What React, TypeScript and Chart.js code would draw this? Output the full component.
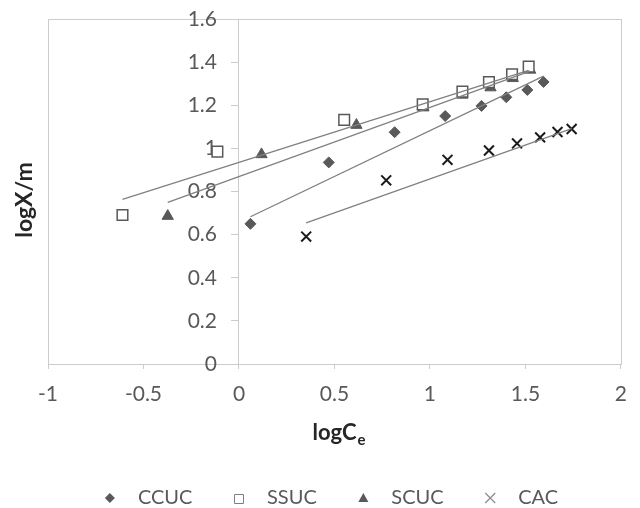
import React, { useEffect, useRef } from "react";
import { Chart, registerables } from "chart.js";

Chart.register(...registerables);

// ---- data ----
const seriesNames = ["CCUC", "SSUC", "SCUC", "CAC"];

const ccucX = [0.06, 0.47, 0.815, 1.08, 1.27, 1.4, 1.51, 1.595];
const ccucY = [0.65, 0.935, 1.075, 1.15, 1.197, 1.237, 1.271, 1.308];

const ssucX = [-0.61, -0.113, 0.551, 0.962, 1.17, 1.309, 1.43, 1.517];
const ssucY = [0.691, 0.985, 1.132, 1.204, 1.263, 1.307, 1.344, 1.379];

const scucX = [-0.373, 0.118, 0.615, 0.966, 1.17, 1.317, 1.434, 1.525];
const scucY = [0.686, 0.972, 1.108, 1.189, 1.248, 1.282, 1.325, 1.364];

const cacX = [0.352, 0.771, 1.092, 1.309, 1.456, 1.577, 1.668, 1.742];
const cacY = [0.591, 0.852, 0.947, 0.99, 1.023, 1.051, 1.076, 1.09];

// trendline end points (x range of each series)
const ccucFitX = [0.06, 1.595];
const ccucFitY = [0.683, 1.335];
const ssucFitX = [-0.61, 1.517];
const ssucFitY = [0.764, 1.362];
const scucFitX = [-0.373, 1.525];
const scucFitY = [0.75, 1.358];
const cacFitX = [0.352, 1.742];
const cacFitY = [0.655, 1.092];

const xTickValues = [-1, -0.5, 0, 0.5, 1, 1.5, 2];
const yTickValues = [0, 0.2, 0.4, 0.6, 0.8, 1, 1.2, 1.4, 1.6];

const xTitle = "logC";
const xTitleSub = "e";
const yTitle = "logX/m";

const toPts = (xs: number[], ys: number[]) => xs.map((x, i) => ({ x, y: ys[i] }));

const DARK = "#595959";
const LINE = "#808080";
const FRAME = "#cccccc";
const FONT = "Lato";

const framePlugin = {
  id: "frame",
  beforeDraw(chart: any) {
    const { ctx, chartArea } = chart;
    ctx.save();
    ctx.strokeStyle = FRAME;
    ctx.lineWidth = 1;
    ctx.strokeRect(
      Math.round(chartArea.left) + 0.5,
      Math.round(chartArea.top) + 0.5,
      Math.round(chartArea.right - chartArea.left),
      Math.round(chartArea.bottom - chartArea.top)
    );
    ctx.restore();
  },
};

function drawMarker(ctx: CanvasRenderingContext2D, kind: string, x: number, y: number) {
  ctx.save();
  ctx.beginPath();
  if (kind === "diamond") {
    const r = 5;
    ctx.moveTo(x, y - r);
    ctx.lineTo(x + r, y);
    ctx.lineTo(x, y + r);
    ctx.lineTo(x - r, y);
    ctx.closePath();
    ctx.fillStyle = DARK;
    ctx.fill();
  } else if (kind === "square") {
    const s = 9;
    ctx.rect(Math.round(x - s / 2) + 0.5, Math.round(y - s / 2) + 0.5, s, s);
    ctx.fillStyle = "#fff";
    ctx.fill();
    ctx.strokeStyle = "#7f7f7f";
    ctx.lineWidth = 1;
    ctx.stroke();
  } else if (kind === "triangle") {
    const s = 10;
    ctx.moveTo(x, y - s * 0.5);
    ctx.lineTo(x + s / 2, y + s * 0.4);
    ctx.lineTo(x - s / 2, y + s * 0.4);
    ctx.closePath();
    ctx.fillStyle = DARK;
    ctx.fill();
  } else {
    const h = 5;
    ctx.moveTo(x - h, y - h);
    ctx.lineTo(x + h, y + h);
    ctx.moveTo(x + h, y - h);
    ctx.lineTo(x - h, y + h);
    ctx.strokeStyle = "#8c8c8c";
    ctx.lineWidth = 1.2;
    ctx.stroke();
  }
  ctx.restore();
}

const titlesPlugin = {
  id: "titlesLegend",
  afterDraw(chart: any) {
    const { ctx } = chart;
    ctx.save();
    // y title
    ctx.fillStyle = "#262626";
    ctx.font = `bold 23px ${FONT}`;
    ctx.textAlign = "center";
    ctx.textBaseline = "middle";
    ctx.translate(25, 200);
    ctx.rotate(-Math.PI / 2);
    ctx.fillText(yTitle, 0, 0);
    ctx.restore();

    // x title with subscript
    ctx.save();
    ctx.fillStyle = "#262626";
    ctx.font = `bold 22px ${FONT}`;
    const w1 = ctx.measureText(xTitle).width;
    ctx.font = `bold 15px ${FONT}`;
    const w2 = ctx.measureText(xTitleSub).width;
    const start = 339 - (w1 + w2 + 1) / 2;
    ctx.textAlign = "left";
    ctx.textBaseline = "alphabetic";
    ctx.font = `bold 22px ${FONT}`;
    ctx.fillText(xTitle, start, 440);
    ctx.font = `bold 15px ${FONT}`;
    ctx.fillText(xTitleSub, start + w1 + 1, 445);
    ctx.restore();

    // legend
    ctx.save();
    ctx.font = `20px ${FONT}`;
    ctx.fillStyle = DARK;
    ctx.textAlign = "left";
    ctx.textBaseline = "middle";
    const kinds = ["diamond", "square", "triangle", "cross"];
    const gapText = 28;
    const gapItem = 46.6;
    const widths = seriesNames.map((n) => ctx.measureText(n).width);
    const total = gapText * 4 + widths.reduce((a, b) => a + b, 0) + gapItem * 3;
    let x = 334 - total / 2;
    const ly = 498;
    seriesNames.forEach((n, i) => {
      drawMarker(ctx, kinds[i], x, ly);
      ctx.fillStyle = DARK;
      ctx.fillText(n, x + gapText, ly);
      x += gapText + widths[i] + gapItem;
    });
    ctx.restore();
  },
};

export default function App() {
  const ref = useRef<HTMLCanvasElement | null>(null);

  useEffect(() => {
    if (!ref.current) return;
    const lineDs = (xs: number[], ys: number[]) => ({
      data: toPts(xs, ys),
      showLine: true,
      pointRadius: 0,
      pointHoverRadius: 0,
      borderColor: LINE,
      borderWidth: 1.3,
      fill: false,
      order: 0,
    });
    const yTickLabelFont = { family: FONT, size: 21 };
    const chart = new Chart(ref.current, {
      type: "scatter",
      data: {
        datasets: [
          lineDs(ccucFitX, ccucFitY),
          lineDs(ssucFitX, ssucFitY),
          lineDs(scucFitX, scucFitY),
          lineDs(cacFitX, cacFitY),
          {
            label: seriesNames[0],
            data: toPts(ccucX, ccucY),
            pointStyle: "rectRot",
            pointRadius: 5.5,
            backgroundColor: DARK,
            borderColor: DARK,
            borderWidth: 1,
            order: 1,
          },
          {
            label: seriesNames[1],
            data: toPts(ssucX, ssucY),
            pointStyle: "rect",
            pointRadius: 7.5,
            backgroundColor: "#ffffff",
            borderColor: DARK,
            borderWidth: 1.5,
            order: 1,
          },
          {
            label: seriesNames[2],
            data: toPts(scucX, scucY),
            pointStyle: "triangle",
            pointRadius: 6.5,
            backgroundColor: DARK,
            borderColor: DARK,
            borderWidth: 1,
            order: 1,
          },
          {
            label: seriesNames[3],
            data: toPts(cacX, cacY),
            pointStyle: "crossRot",
            pointRadius: 7,
            backgroundColor: "#1a1a1a",
            borderColor: "#1a1a1a",
            borderWidth: 2,
            order: 1,
          },
        ] as any,
      },
      options: {
        animation: false,
        responsive: false,
        devicePixelRatio: 1,
        layout: { padding: { left: 48, right: 11, top: 19, bottom: 0 } },
        plugins: {
          legend: { display: false },
          tooltip: { enabled: false },
          title: { display: false },
        },
        scales: {
          x: {
            type: "linear",
            position: "bottom",
            min: -1,
            max: 2,
            afterFit: (s: any) => {
              s.height = 144;
            },
            afterBuildTicks: (s: any) => {
              s.ticks = xTickValues.map((v) => ({ value: v }));
            },
            ticks: {
              color: DARK,
              font: { family: FONT, size: 21 },
              padding: 13,
              callback: (v: any) => String(v),
            },
            grid: {
              display: true,
              drawOnChartArea: false,
              drawTicks: true,
              tickLength: 5,
              color: FRAME,
            },
            border: { display: true, color: FRAME, width: 1 },
          },
          y: {
            type: "linear",
            position: { x: 0 } as any,
            min: 0,
            max: 1.6,
            afterFit: (s: any) => {
              s.width = 0;
            },
            afterBuildTicks: (s: any) => {
              s.ticks = yTickValues.map((v) => ({ value: v }));
            },
            ticks: { display: false },
            grid: {
              display: true,
              drawOnChartArea: false,
              drawTicks: true,
              tickLength: 7,
              color: FRAME,
            },
            border: { display: true, color: FRAME, width: 1 },
          },
          yLabels: {
            type: "linear",
            axis: "y",
            position: { x: -0.115 } as any,
            min: 0,
            max: 1.6,
            afterFit: (s: any) => {
              s.width = 0;
            },
            afterBuildTicks: (s: any) => {
              s.ticks = yTickValues.map((v) => ({ value: v }));
            },
            ticks: {
              color: DARK,
              font: yTickLabelFont,
              callback: (v: any) => String(Math.round(v * 10) / 10),
            },
            grid: { display: false, drawTicks: false },
            border: { display: false },
          },
        } as any,
      },
      plugins: [framePlugin, titlesPlugin],
    });
    return () => chart.destroy();
  }, []);

  return (
    <div style={{ position: "fixed", left: 0, top: 0, width: 640, height: 508, background: "#fff" }}>
      <canvas ref={ref} width={640} height={508} style={{ width: 640, height: 508, display: "block" }} />
    </div>
  );
}
